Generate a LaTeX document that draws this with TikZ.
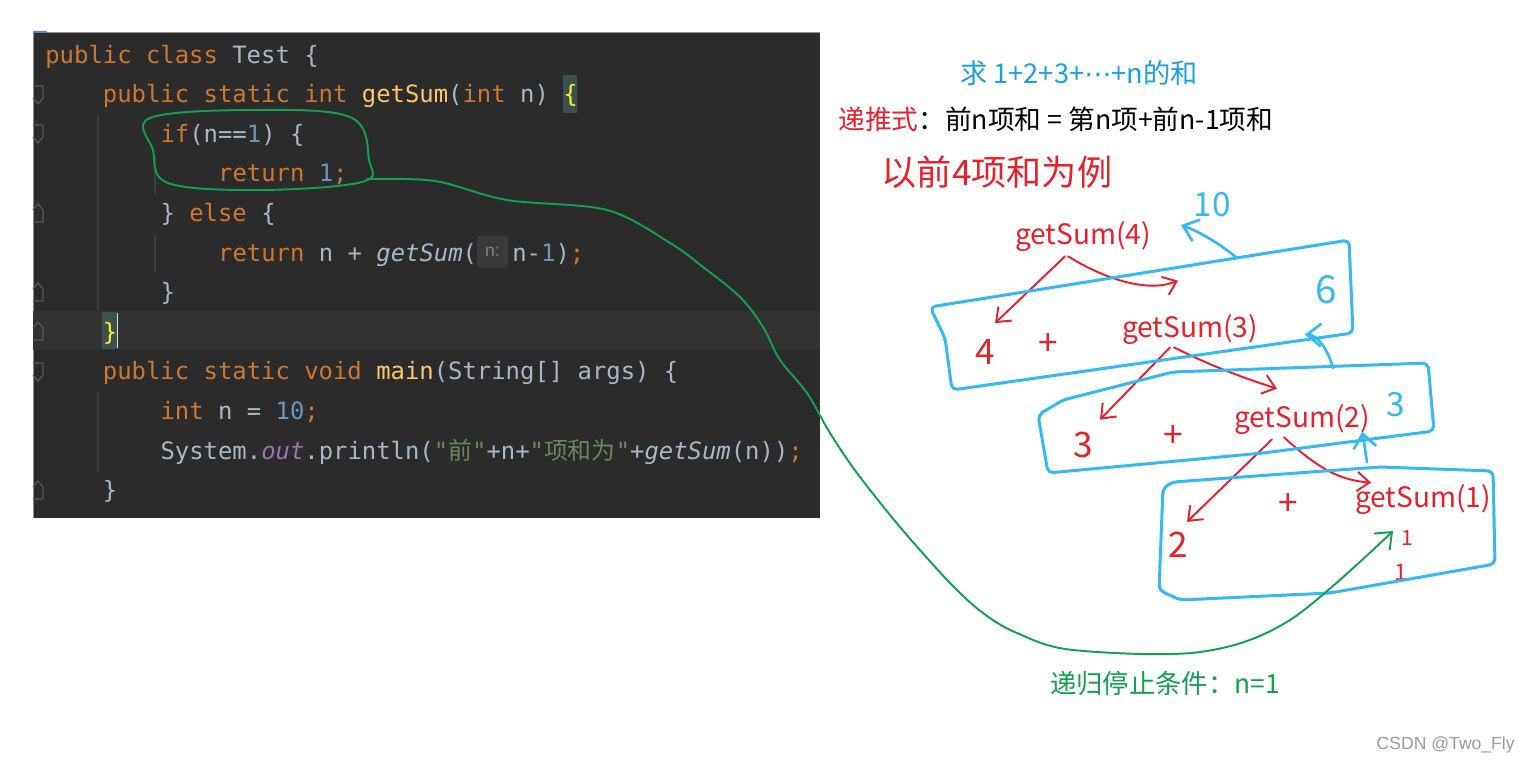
\documentclass[tikz,border=0pt]{standalone}
\usepackage{fontspec}
\usepackage{tikz}
\usetikzlibrary{positioning, calc, arrows.meta}
\newfontfamily\codefont{DejaVu Sans Mono}
\newfontfamily\cjk{Noto Sans CJK SC}
\newfontfamily\uifont{Liberation Sans}
\newfontfamily\symfont{DejaVu Sans}
\definecolor{IdeBg}{HTML}{2B2B2B}
\definecolor{IdeLine}{HTML}{323232}
\definecolor{IdeEdge}{HTML}{8F8F8F}
\definecolor{IdeGuide}{HTML}{3D3D3D}
\definecolor{IdeGutter}{HTML}{555555}
\definecolor{IdeFg}{HTML}{A9B7C6}
\definecolor{IdeKey}{HTML}{CC7832}
\definecolor{IdeFn}{HTML}{FFC66D}
\definecolor{IdeNum}{HTML}{6897BB}
\definecolor{IdeStr}{HTML}{6A8759}
\definecolor{IdeField}{HTML}{9876AA}
\definecolor{IdeMatchBg}{HTML}{3B514D}
\definecolor{IdeMatch}{HTML}{FFEF28}
\definecolor{HintBg}{HTML}{3A3A3A}
\definecolor{HintFg}{HTML}{7F7F7F}
\definecolor{TabBlue}{HTML}{4A88C7}
\definecolor{InkRed}{HTML}{E6212B}
\definecolor{InkBlue}{HTML}{36B8F2}
\definecolor{InkGreen}{HTML}{13A150}
\definecolor{TitleBlue}{HTML}{1E9FE0}
\definecolor{MarkGrey}{HTML}{9A9A9A}
\newcommand{\ckw}[1]{\textcolor{IdeKey}{#1}}
\newcommand{\cfn}[1]{\textcolor{IdeFn}{#1}}
\newcommand{\cnum}[1]{\textcolor{IdeNum}{#1}}
\newcommand{\cstr}[1]{\textcolor{IdeStr}{#1}}
\newcommand{\cmatch}[1]{\textcolor{IdeMatch}{#1}}

\begin{document}
\begin{tikzpicture}[x=0.02cm, y=-0.02cm,
  code/.style={anchor=base west, inner sep=0pt, text=IdeFg,
    font=\codefont\fontsize{13.6pt}{16pt}\selectfont},
  hint/.style={fill=HintBg, rounded corners=2pt, inner sep=0pt,
    minimum width=0.62cm, minimum height=0.64cm, text=HintFg,
    font=\uifont\fontsize{10pt}{12pt}\selectfont},
  hand/.style={inner sep=0pt, text=InkRed, font=\cjk\fontsize{16pt}{18pt}\selectfont},
  digit/.style={hand, font=\cjk\fontsize{20pt}{22pt}\selectfont},
  bluenum/.style={hand, text=InkBlue, font=\cjk\fontsize{19pt}{21pt}\selectfont},
  inkbox/.style={draw=InkBlue, line width=1.7pt, rounded corners=3pt, line join=round},
  redarrow/.style={draw=InkRed, line width=1.1pt, line cap=round,
    -{Straight Barb[length=7pt, width=11pt]}},
  bluearrow/.style={draw=InkBlue, line width=1.5pt, line cap=round,
    -{Straight Barb[length=8pt, width=13pt]}},
  greenink/.style={draw=InkGreen, line width=1.1pt, line cap=round, line join=round}]
  \useasboundingbox[fill=white] (0,0) rectangle (1529,765);

  % editor panel
  \fill[IdeBg] (33,32) rectangle (820,518);
  \draw[IdeEdge, line width=0.3pt] (33,518) -- (33,32) -- (820,32);
  \draw[TabBlue, line width=1pt] (33,32) -- (47,32);
  \fill[IdeLine] (33,311) rectangle (820,350);
  \foreach \gx/\ya/\yb in {98/116/310, 98/392/472, 155/156/194, 155/234/272}
    \draw[IdeGuide, line width=0.8pt] (\gx,\ya) -- (\gx,\yb);
  \foreach \gy/\d in {95/1, 134/1, 213/-1, 292/-1, 331/-1, 372/1, 490/-1}
    \draw[IdeGutter, line width=0.7pt]
      (33,\gy-9*\d) -- (43,\gy-9*\d) -- (43,\gy+3*\d) -- (38,\gy+9*\d) -- (33,\gy+3*\d);
  \fill[IdeMatchBg] (563,75) rectangle (577,113);
  \fill[IdeMatchBg] (102,312) rectangle (116.5,349);

  \node[code] (l1) at (45,63) {\ckw{public class} Test \{};
  \node[code] (l2) at (102.6,102.6) {\ckw{public static int} \cfn{getSum}(\ckw{int} n) \cmatch{\{}};
  \node[code] (l3) at (160.2,142.2) {\ckw{if}(n==\cnum{1}) \{};
  \node[code] (l4) at (217.8,181.8) {\ckw{return} \cnum{1}\ckw{;}};
  \node[code] (l5) at (160.2,221.4) {\} \ckw{else} \{};
  \node[code] (l6) at (217.8,261) {\ckw{return} n + \textit{getSum}(};
  \node[hint] (nhint) at (492.5,251.5) {n:};
  \node[code] (l6b) at (512,261) {n-\cnum{1})\ckw{;}};
  \node[code] (l7) at (160.2,300.6) {\}};
  \node[code] (l8) at (102.6,340.2) {\cmatch{\}}};
  \draw[white!85!black, line width=0.8pt] (117.5,313) -- (117.5,348);
  \node[code] (l9) at (102.6,379.8) {\ckw{public static void} \cfn{main}(String[] args) \{};
  \node[code] (l10) at (160.2,419.4) {\ckw{int} n = \cnum{10}\ckw{;}};
  \node[code] (l11) at (160.2,459) {System.\textcolor{IdeField}{\textit{out}}.println(\cstr{"{\cjk 前}"}+n+\cstr{"{\cjk 项和为}"}+\textit{getSum}(n))\ckw{;}};
  \node[code] (l12) at (102.6,498.6) {\}};

  % printed notes
  \node[inner sep=0pt, text=TitleBlue, font=\cjk\fontsize{15.5pt}{18pt}\selectfont]
    (title) at (1079,73) {求 1+2+3+{\symfont ⋯}+n的和};
  \node[anchor=west, inner sep=0pt, font=\cjk\fontsize{15.2pt}{18pt}\selectfont]
    (rule) at (838,119) {\textcolor{InkRed}{递推式}：前n项和 = 第n项+前n-1项和};
  \node[hand, font=\cjk\fontsize{20pt}{22pt}\selectfont] (example) at (997,172) {以前4项和为例};

  % call tree
  \node[hand] (g4) at (1083,237) {getSum(4)};
  \node[digit] (t4) at (985,352) {4};
  \node[digit] (p4) at (1048,345) {+};
  \node[hand] (g3) at (1190,330) {getSum(3)};
  \node[digit] (t3) at (1083,445) {3};
  \node[digit] (p3) at (1173,437) {+};
  \node[hand] (g2) at (1302,420) {getSum(2)};
  \node[digit] (t2) at (1178,545) {2};
  \node[digit] (p2) at (1288,505) {+};
  \node[hand] (g1) at (1423,500) {getSum(1)};
  \node[hand, font=\cjk\fontsize{12pt}{14pt}\selectfont] (r1a) at (1407,538) {1};
  \node[hand, font=\cjk\fontsize{13pt}{15pt}\selectfont] (r1b) at (1401,572) {1};

  \draw[redarrow] ($(g4.south)+(-18,4)$) -- ($(t4.north)+(10,-16)$);
  \draw[redarrow] ($(g4.south)+(-15,4)$) .. controls (1110,282) and (1150,292) .. ($(g3.north)+(-12,-34)$);
  \draw[redarrow] ($(g3.south)+(-20,2)$) -- ($(t3.north)+(17,-12)$);
  \draw[redarrow] ($(g3.south)+(-16,2)$) .. controls (1215,368) and (1250,380) .. ($(g2.north)+(-25,-16)$);
  \draw[redarrow] ($(g2.south)+(-30,4)$) -- ($(t2.north)+(9,-10)$);
  \draw[redarrow] ($(g2.south)+(-18,2)$) .. controls (1320,470) and (1340,480) .. ($(g1.north)+(-52,-2)$);

  % result frames
  \draw[inkbox] (930,307) -- (945,338) -- (952,390) -- (1353,333) -- (1349,240) -- cycle;
  \draw[inkbox] (1038,415) -- (1063,400) -- (1173,372) -- (1428,363) -- (1434,431) -- (1263,453) -- (1048,473) -- cycle;
  \draw[inkbox] (1163,488) -- (1173,482) -- (1380,467) -- (1493,471) -- (1495,564) -- (1330,593) -- (1180,600) -- (1159,590) -- cycle;

  \node[bluenum] (s10) at (1212,205) {10};
  \node[bluenum, font=\cjk\fontsize{22pt}{24pt}\selectfont] (s6) at (1326,290) {6};
  \node[bluenum] (s3) at (1396,405) {3};
  \coordinate (up1) at (1237,258);
  \coordinate (up2) at (1333,368);
  \coordinate (up3) at (1367,462);
  \draw[bluearrow] (up1) .. controls (1215,240) and (1195,230) .. ($(s10.west)+(-12,20)$);
  \draw[bluearrow] (up2) .. controls (1328,350) and (1318,335) .. ($(s6.south west)+(-10,30)$);
  \draw[bluearrow] (up3) -- ($(s3.south west)+(-24,14)$);

  % stop condition
  \draw[greenink] plot[smooth cycle, tension=0.6] coordinates
    {(150,118) (250,110) (350,117) (369,160) (362,182) (260,190) (168,183) (153,150)};
  \coordinate (loopEnd) at (367,179);
  \coordinate (baseHit) at (1393,531);
  \draw[greenink, -{Straight Barb[length=8pt, width=13pt]}] plot[smooth, tension=0.55] coordinates
    {(loopEnd) (435,181) (507,200) (607,210) (670,243) (703,267) (740,297) (763,327)
     (780,360) (807,393) (830,433) (857,473) (900,527) (950,583) (983,613) (1017,633)
     (1073,650) (1200,652) (1290,620) (baseHit)};
  \node[inner sep=0pt, text=InkGreen, font=\cjk\fontsize{15pt}{17pt}\selectfont]
    (stop) at (1165,683) {递归停止条件：n=1};

  \node[anchor=east, inner sep=0pt, text=MarkGrey, font=\uifont\fontsize{10pt}{12pt}\selectfont]
    (mark) at (1515,745) {CSDN @Two\_Fly};
\end{tikzpicture}
\end{document}
